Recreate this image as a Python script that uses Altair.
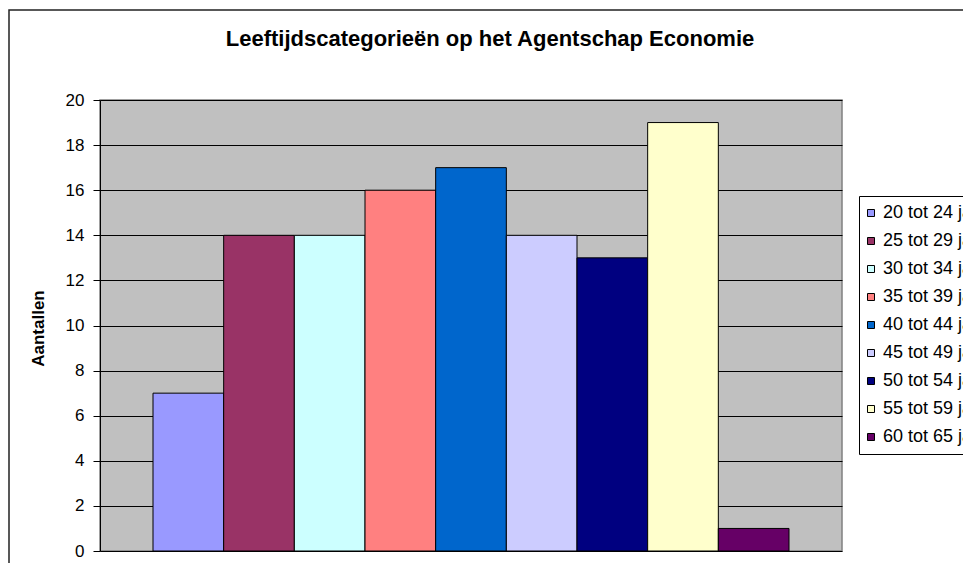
import altair as alt
import pandas as pd

categories = ["20 tot 24 jaar", "25 tot 29 jaar", "30 tot 34 jaar", "35 tot 39 jaar",
              "40 tot 44 jaar", "45 tot 49 jaar", "50 tot 54 jaar", "55 tot 59 jaar",
              "60 tot 65 jaar"]
values = [7, 14, 14, 16, 17, 14, 13, 19, 1]
colors = ["#9999FF", "#993366", "#CCFFFF", "#FF8080", "#0066CC",
          "#CCCCFF", "#000080", "#FFFFCC", "#660066"]
y_ticks = [0, 2, 4, 6, 8, 10, 12, 14, 16, 18, 20]

df = pd.DataFrame({"cat": categories, "n": values})

PW, PH = 742, 451

bars = alt.Chart(df).mark_bar(stroke="black", strokeWidth=1).encode(
    x=alt.X("cat:N", sort=categories,
            scale=alt.Scale(paddingInner=0, paddingOuter=0.75), axis=None),
    y=alt.Y("n:Q", scale=alt.Scale(domain=[0, 20], nice=False),
            axis=alt.Axis(values=y_ticks, title="Aantallen", grid=True,
                          gridColor="black", gridWidth=1,
                          domainColor="black", domainWidth=1,
                          tickColor="black", tickSize=7, tickWidth=1,
                          labelFontSize=17, labelColor="black", labelPadding=9,
                          titleFontSize=17, titleFontWeight="bold", titleColor="black",
                          titleAngle=270, titleX=-62, titleY=228,
                          titleAlign="center", titleBaseline="middle")),
    color=alt.Color("cat:N",
                    scale=alt.Scale(domain=categories, range=colors),
                    legend=alt.Legend(title=None, orient="none", legendX=759, legendY=96,
                                      symbolType="square", symbolSize=49,
                                      symbolStrokeColor="black", symbolStrokeWidth=1,
                                      symbolOpacity=1, symbolOffset=-5,
                                      labelFontSize=18, labelColor="black",
                                      labelOffset=3, rowPadding=10, padding=8,
                                      strokeColor="black", fillColor="white",
                                      labelLimit=300)),
)

frame = alt.Chart(alt.Data(values=[{}])).mark_rect(
    filled=False, stroke="#222222", strokeWidth=1.5
).encode(
    x=alt.value(-91), x2=alt.value(PW + 300),
    y=alt.value(-90), y2=alt.value(PH + 200),
)

chart = alt.layer(frame, bars).properties(
    width=PW, height=PH,
    title=alt.TitleParams("Leeftijdscategorieën op het Agentschap Economie",
                          fontSize=22, fontWeight="bold", color="black",
                          anchor="middle", dx=19, offset=0, dy=59,
                          baseline="alphabetic"),
    autosize=alt.AutoSizeParams(type="none"),
    padding={"left": 92, "top": 92, "right": 121, "bottom": 12},
).configure(font="Liberation Sans").configure_view(
    fill="#C0C0C0", stroke="#808080", strokeWidth=1.5
)

chart.save("out.html", embed_options={"renderer": "svg", "actions": False})
